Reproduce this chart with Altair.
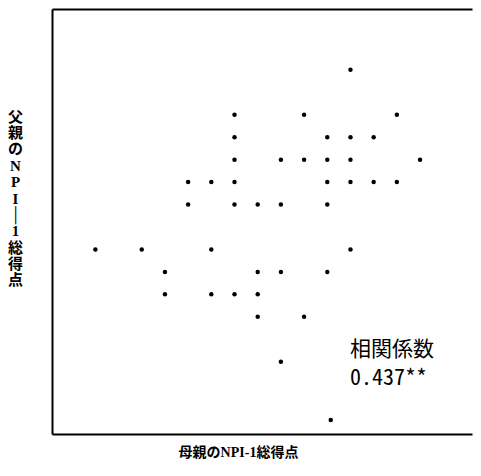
import altair as alt
import pandas as pd

# mother's NPI-1 score (x, grid units) and father's NPI-1 score (y, grid units)
mother = [11,
          6, 9, 13,
          6, 10, 11, 12,
          6, 8, 9, 10, 11, 14,
          4, 5, 6, 10, 11, 12, 13,
          4, 6, 7, 8, 10,
          0, 2, 5, 11,
          3, 7, 8, 10,
          3, 5, 6, 7,
          7, 9,
          8,
          10.15]
father = [15,
          13, 13, 13,
          12, 12, 12, 12,
          11, 11, 11, 11, 11, 11,
          10, 10, 10, 10, 10, 10, 10,
          9, 9, 9, 9, 9,
          7, 7, 7, 7,
          6, 6, 6, 6,
          5, 5, 5, 5,
          4, 4,
          2,
          -0.6]

x_title = "母親のNPI-1総得点"
y_title_lines = ["父", "親", "の", "N", "P", "I", "│", "1", "総", "得", "点"]
corr_head = "相関係数"
corr_value = "0.437**"

df = pd.DataFrame({"mother": mother, "father": father})

W, H = 420, 425
FONT = "Liberation Serif, Noto Sans CJK JP"
xscale = alt.Scale(domain=[-1.87, 16.24], nice=False, zero=False)
yscale = alt.Scale(domain=[-1.22, 17.71], nice=False, zero=False)

pts = alt.Chart(df).mark_circle(size=20, color="black", opacity=1).encode(
    x=alt.X("mother:Q", scale=xscale,
            axis=alt.Axis(title=x_title, ticks=False, labels=False, grid=False,
                          domainColor="black", domainWidth=2,
                          titleFont=FONT, titleFontSize=14, titleFontWeight="bold",
                          titleColor="black", titleX=186, titleY=18,
                          titleAlign="center", titleBaseline="middle")),
    y=alt.Y("father:Q", scale=yscale,
            axis=alt.Axis(title=y_title_lines, ticks=False, labels=False, grid=False,
                          domainColor="black", domainWidth=2,
                          titleFont=FONT, titleFontSize=15, titleFontWeight="bold",
                          titleColor="black", titleAngle=0, titleX=-37, titleY=100,
                          titleAlign="center", titleBaseline="top",
                          titleLineHeight=16.4)),
)

# invisible layer that only carries the top frame line (top x axis domain)
top_frame = alt.Chart(df).mark_circle(opacity=0).encode(
    x=alt.X("mother:Q", scale=xscale,
            axis=alt.Axis(orient="top", title="", ticks=False, labels=False,
                          grid=False, domainColor="black", domainWidth=2)),
    y=alt.Y("father:Q", scale=yscale),
)

head = alt.Chart(pd.DataFrame({"t": [corr_head]})).mark_text(
    font="Noto Sans CJK JP", fontSize=21, align="left", baseline="middle",
    color="black").encode(text="t:N", x=alt.value(298), y=alt.value(341))

val = alt.Chart(pd.DataFrame({"t": [corr_value]})).mark_text(
    font="Noto Sans Mono CJK JP, Liberation Mono", fontSize=22, align="left",
    baseline="middle", color="black").encode(
    text="t:N", x=alt.value(298), y=alt.value(369))

chart = alt.layer(pts, top_frame, head, val).resolve_axis(
    x="independent"
).properties(
    width=W, height=H,
    padding={"left": 44, "top": 1, "right": 1, "bottom": 27},
    autosize=alt.AutoSizeParams(type="none"),
    background="white",
).configure_view(stroke="transparent", strokeWidth=0)

chart.save("out.html", embed_options={"renderer": "svg", "actions": False})
